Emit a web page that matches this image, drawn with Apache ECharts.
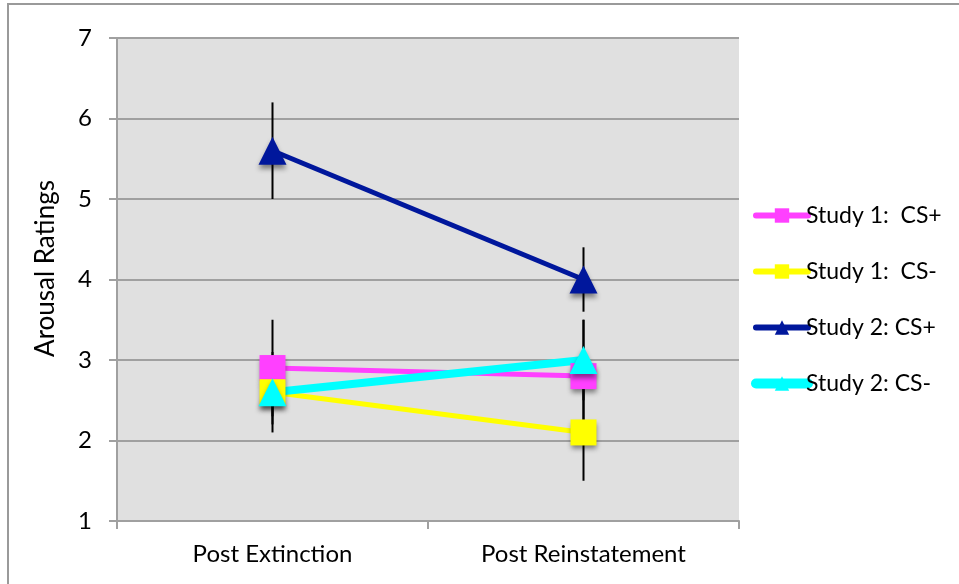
<!DOCTYPE html>
<html>
<head>
<meta charset="utf-8">
<script src="https://cdn.jsdelivr.net/npm/echarts@6/dist/echarts.min.js"></script>
<style>
  html, body { margin: 0; padding: 0; background: #fff; }
  #chart { width: 959px; height: 584px; }
</style>
</head>
<body>
<div id="chart"></div>
<script>
// Phases of the experiment (x categories)
const categories = ['Post Extinction', 'Post Reinstatement'];

// Mean arousal ratings per group
const study1CSplus = [2.9, 2.8];
const study1CSminus = [2.6, 2.1];
const study2CSplus = [5.6, 4.0];
const study2CSminus = [2.6, 3.0];

// Error bar extents [low, high] per group and phase
const err1CSplus = [[2.3, 3.5], [2.1, 3.5]];
const err1CSminus = [[2.1, 3.1], [1.5, 2.7]];
const err2CSplus = [[5.0, 6.2], [3.6, 4.4]];
const err2CSminus = [[2.2, 3.0], [2.5, 3.5]];

// Y axis ticks
const yTicks = [1, 2, 3, 4, 5, 6, 7];

const FONT = 'Lato, "Open Sans", sans-serif';

const errRows = [];
[err1CSplus, err1CSminus, err2CSplus, err2CSminus].forEach(g => {
  g.forEach((r, i) => errRows.push([i, r[0], r[1]]));
});

const shadow = {
  shadowBlur: 5,
  shadowColor: 'rgba(0,0,0,0.45)',
  shadowOffsetX: 0,
  shadowOffsetY: 4
};

function lineSeries(name, data, color, symbol, size, width) {
  return {
    name: name,
    type: 'line',
    data: data,
    symbol: symbol,
    symbolSize: size,
    z: 5,
    lineStyle: { color: color, width: width },
    itemStyle: Object.assign({ color: color, opacity: 1 }, shadow),
    emphasis: { disabled: true },
    animation: false
  };
}

function legendItem(name, color, width) {
  return {
    name: name,
    itemStyle: { color: color, shadowBlur: 0, shadowOffsetY: 0, shadowColor: 'transparent' },
    lineStyle: { color: color, width: width, cap: 'round' }
  };
}

const chart = echarts.init(document.getElementById('chart'));
chart.setOption({
  animation: false,
  graphic: [{
    type: 'rect',
    shape: { x: 8, y: 4, width: 1000, height: 700 },
    style: { fill: 'none', stroke: '#9a9a9a', lineWidth: 2 },
    z: -10
  }],
  grid: {
    left: 117, right: 220, top: 38, bottom: 63,
    show: true, backgroundColor: '#E0E0E0', borderWidth: 0
  },
  legend: {
    orient: 'vertical',
    left: 746,
    top: 199,
    itemWidth: 52,
    itemHeight: 18,
    itemGap: 33,
    textStyle: { fontFamily: FONT, fontSize: 23, color: '#000', padding: [0, 0, 0, -7] },
    data: [
      legendItem('Study 1:  CS+', '#FF40FF', 6),
      legendItem('Study 1:  CS-', '#FFFF00', 6),
      legendItem('Study 2: CS+', '#00179C', 6),
      legendItem('Study 2: CS-', '#00FFFF', 10)
    ]
  },
  xAxis: {
    type: 'category',
    data: categories,
    boundaryGap: true,
    axisLine: { lineStyle: { color: '#a0a0a0', width: 2 } },
    axisTick: { show: true, length: 8, lineStyle: { color: '#a0a0a0', width: 2 } },
    axisLabel: { fontFamily: FONT, fontSize: 24, color: '#000', margin: 21 },
    splitLine: { show: false }
  },
  yAxis: {
    type: 'value',
    min: 1, max: 7, interval: 1,
    name: 'Arousal Ratings',
    nameLocation: 'middle',
    nameGap: 58,
    nameRotate: 90,
    nameTextStyle: { fontFamily: FONT, fontSize: 26, color: '#000', padding: [0, 0, 0, 22] },
    axisLine: { show: true, lineStyle: { color: '#a0a0a0', width: 2 } },
    axisTick: { show: true, length: 8, lineStyle: { color: '#a0a0a0', width: 2 } },
    axisLabel: {
      fontFamily: FONT, fontSize: 24, color: '#000', margin: 25,
      formatter: v => (yTicks.indexOf(v) >= 0 ? String(v) : '')
    },
    splitLine: { show: true, lineStyle: { color: '#a0a0a0', width: 2 } }
  },
  series: [
    {
      name: 'errors',
      type: 'custom',
      z: 2,
      silent: true,
      data: errRows,
      renderItem: function (params, api) {
        const x = api.value(0);
        const lo = api.coord([x, api.value(1)]);
        const hi = api.coord([x, api.value(2)]);
        return {
          type: 'line',
          shape: { x1: lo[0], y1: lo[1], x2: hi[0], y2: hi[1] },
          style: { stroke: '#000', lineWidth: 2 }
        };
      }
    },
    lineSeries('Study 1:  CS+', study1CSplus, '#FF40FF', 'rect', 26, 5),
    lineSeries('Study 1:  CS-', study1CSminus, '#FFFF00', 'rect', 26, 5),
    lineSeries('Study 2: CS+', study2CSplus, '#00179C', 'triangle', 28, 5),
    lineSeries('Study 2: CS-', study2CSminus, '#00FFFF', 'triangle', 28, 8)
  ]
});
</script>
</body>
</html>
